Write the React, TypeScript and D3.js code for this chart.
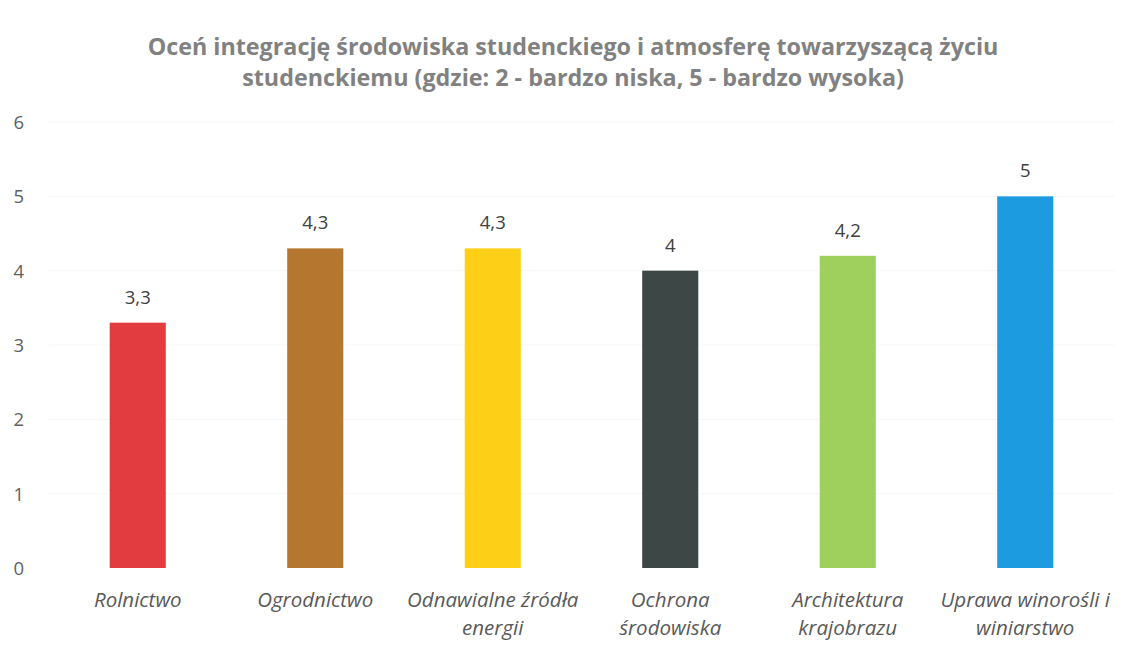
import React, { useRef, useEffect } from 'react';
import * as d3 from 'd3';

// dane z wykresu
const categories = [
  ['Rolnictwo'],
  ['Ogrodnictwo'],
  ['Odnawialne źródła', 'energii'],
  ['Ochrona', 'środowiska'],
  ['Architektura', 'krajobrazu'],
  ['Uprawa winorośli i', 'winiarstwo'],
];
const values = [3.3, 4.3, 4.3, 4, 4.2, 5];
const barColors = ['#e23b40', '#b5762f', '#fdd017', '#3d4846', '#9fcf5c', '#1d9be0'];
const yTicks = [0, 1, 2, 3, 4, 5, 6];
const titleLines = [
  'Oceń integrację środowiska studenckiego i atmosferę towarzyszącą życiu',
  'studenckiemu (gdzie: 2 - bardzo niska, 5 - bardzo wysoka)',
];

const W = 1133;
const H = 652;

const App = () => {
  const svgRef = useRef<SVGSVGElement>(null);

  useEffect(() => {
    document.body.style.margin = '0';
    const svg = d3.select(svgRef.current);
    svg.selectAll('*').remove();

    const font = "'Open Sans', sans-serif";

    const x = d3.scaleBand<number>()
      .domain(values.map((_, i) => i))
      .range([49, 1114])
      .paddingInner(0.684)
      .paddingOuter(0.342);

    const y = d3.scaleLinear().domain([0, 6]).range([568, 122]);

    // tytuł
    svg.append('g')
      .selectAll('text')
      .data(titleLines)
      .enter().append('text')
      .attr('x', 573)
      .attr('y', (d, i) => 55 + i * 31)
      .attr('text-anchor', 'middle')
      .style('font-family', font)
      .style('font-size', '23.3px')
      .style('font-weight', '700')
      .attr('fill', '#818181')
      .text(d => d);

    // bardzo jasne linie siatki
    svg.append('g')
      .selectAll('line')
      .data(yTicks.slice(1))
      .enter().append('line')
      .attr('x1', 49)
      .attr('x2', 1114)
      .attr('y1', d => y(d))
      .attr('y2', d => y(d))
      .attr('stroke', '#f6f6f6')
      .attr('stroke-width', 1);

    // oś Y
    svg.append('g')
      .selectAll('text')
      .data(yTicks)
      .enter().append('text')
      .attr('x', 24)
      .attr('y', d => y(d) + 7)
      .attr('text-anchor', 'end')
      .style('font-family', font)
      .style('font-size', '18.5px')
      .attr('fill', '#5f5f5f')
      .text(d => d);

    // słupki
    svg.append('g')
      .selectAll('rect')
      .data(values)
      .enter().append('rect')
      .attr('x', (d, i) => x(i)!)
      .attr('width', x.bandwidth())
      .attr('y', d => y(d))
      .attr('height', d => y(0) - y(d))
      .attr('fill', (d, i) => barColors[i]);

    // etykiety wartości
    svg.append('g')
      .selectAll('text')
      .data(values)
      .enter().append('text')
      .attr('x', (d, i) => x(i)! + x.bandwidth() / 2)
      .attr('y', d => y(d) - 19)
      .attr('text-anchor', 'middle')
      .style('font-family', font)
      .style('font-size', '18.5px')
      .attr('fill', '#404040')
      .text(d => String(d).replace('.', ','));

    // etykiety kategorii
    const cat = svg.append('g')
      .selectAll('text')
      .data(categories)
      .enter().append('text')
      .attr('text-anchor', 'middle')
      .style('font-family', font)
      .style('font-size', '20.5px')
      .style('font-style', 'italic')
      .attr('fill', '#595959');

    cat.selectAll('tspan')
      .data((d, i) => d.map(t => ({ t, i })))
      .enter().append('tspan')
      .attr('x', d => x(d.i)! + x.bandwidth() / 2)
      .attr('y', (d, j) => 607 + j * 28)
      .text(d => d.t);
  }, []);

  return <svg ref={svgRef} width={W} height={H} style={{ display: 'block', background: '#fff' }} />;
};

export default App;
